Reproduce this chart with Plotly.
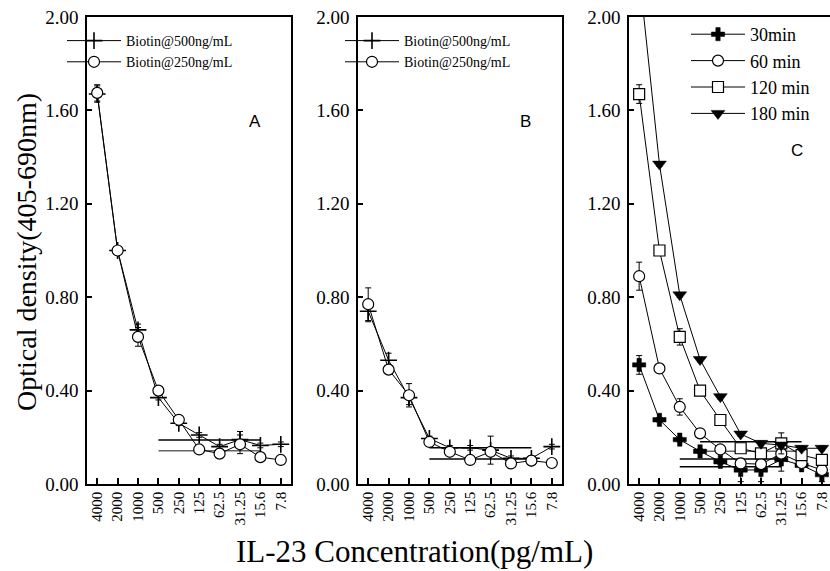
import plotly.graph_objects as go

categories = ["4000", "2000", "1000", "500", "250", "125", "62.5", "31.25", "15.6", "7.8"]

# Panel A
A_500 = [1.67, 1.00, 0.66, 0.37, 0.26, 0.21, 0.16, 0.19, 0.165, 0.17]
A_500_err = [0.035, 0.01, 0.025, 0.01, 0.01, 0.01, 0.01, 0.035, 0.01, 0.01]
A_250 = [1.675, 1.00, 0.63, 0.40, 0.275, 0.148, 0.13, 0.17, 0.115, 0.103]
A_250_err = [0.035, 0.01, 0.04, 0.01, 0.01, 0.01, 0.01, 0.04, 0.01, 0.01]
A_hline_y = [0.188, 0.142]
A_hline_from = ["500", "500"]
A_hline_to = ["15.6", "15.6"]

# Panel B
B_500 = [0.74, 0.53, 0.37, 0.195, 0.155, 0.155, 0.145, 0.11, 0.11, 0.16]
B_500_err = [0.045, 0.03, 0.03, 0.01, 0.01, 0.01, 0.06, 0.01, 0.01, 0.01]
B_250 = [0.77, 0.49, 0.38, 0.18, 0.138, 0.103, 0.138, 0.088, 0.10, 0.09]
B_250_err = [0.07, 0.01, 0.05, 0.01, 0.01, 0.01, 0.01, 0.01, 0.01, 0.01]
B_hline_y = [0.155, 0.107]
B_hline_from = ["500", "500"]
B_hline_to = ["15.6", "15.6"]

# Panel C
C_30 = [0.51, 0.275, 0.19, 0.14, 0.095, 0.06, 0.06, 0.105, 0.08, 0.04]
C_30_err = [0.04, 0.01, 0.01, 0.01, 0.01, 0.05, 0.05, 0.05, 0.01, 0.03]
C_60 = [0.89, 0.495, 0.33, 0.217, 0.148, 0.088, 0.085, 0.13, 0.09, 0.06]
C_60_err = [0.06, 0.01, 0.035, 0.01, 0.01, 0.01, 0.01, 0.01, 0.01, 0.01]
C_120 = [1.67, 1.00, 0.63, 0.40, 0.274, 0.153, 0.131, 0.174, 0.124, 0.103]
C_120_err = [0.04, 0.01, 0.035, 0.01, 0.01, 0.01, 0.01, 0.045, 0.01, 0.01]
C_180 = [2.19, 1.37, 0.81, 0.533, 0.374, 0.214, 0.174, 0.167, 0.153, 0.153]
C_180_err = [0.01, 0.01, 0.01, 0.01, 0.01, 0.01, 0.01, 0.01, 0.01, 0.01]
C_hline_y = [0.181, 0.140, 0.107, 0.074]
C_hline_from = ["500", "500", "1000", "1000"]
C_hline_to = ["15.6", "15.6", "31.25", "31.25"]

panel_labels = ["A", "B", "C"]
x_title = "IL-23 Concentration(pg/mL)"
y_title = "Optical density(405-690nm)"

SERIF = "Liberation Serif, Times New Roman, serif"
SANS = "Liberation Sans, Arial, sans-serif"
W, H = 830, 571
idx = list(range(len(categories)))
pos = {c: i for i, c in enumerate(categories)}

fig = go.Figure()


def series(y, err, name, symbol, size, xa, ya, legend, fill="white", lw=1.2):
    fig.add_trace(go.Scatter(
        x=idx, y=y, name=name, mode="lines+markers",
        line=dict(color="black", width=1),
        marker=dict(symbol=symbol, size=size, color=fill,
                    line=dict(color="black", width=lw)),
        error_y=dict(type="data", array=err, visible=True, color="black",
                     thickness=1, width=3),
        xaxis=xa, yaxis=ya, legend=legend, showlegend=True, cliponaxis=True))


def hlines(ys, frm, to, xa, ya, colors):
    for y, a, b, c in zip(ys, frm, to, colors):
        fig.add_trace(go.Scatter(
            x=[pos[a], pos[b]], y=[y, y], mode="lines",
            line=dict(color=c, width=1.5), showlegend=False,
            xaxis=xa, yaxis=ya, hoverinfo="skip"))


# Panel A
hlines(A_hline_y, A_hline_from, A_hline_to, "x", "y", ["black", "#666"])
series(A_500, A_500_err, "Biotin@500ng/mL", "cross-thin", 12, "x", "y", "legend", fill="black", lw=1.6)
series(A_250, A_250_err, "Biotin@250ng/mL", "circle", 11, "x", "y", "legend")
# Panel B
hlines(B_hline_y, B_hline_from, B_hline_to, "x2", "y2", ["black", "black"])
series(B_500, B_500_err, "Biotin@500ng/mL", "cross-thin", 12, "x2", "y2", "legend2", fill="black", lw=1.6)
series(B_250, B_250_err, "Biotin@250ng/mL", "circle", 11, "x2", "y2", "legend2")
# Panel C
hlines(C_hline_y, C_hline_from, C_hline_to, "x3", "y3", ["black", "#666", "black", "black"])
series(C_30, C_30_err, "30min", "cross", 11, "x3", "y3", "legend3", fill="black", lw=0.5)
series(C_60, C_60_err, "60 min", "circle", 11, "x3", "y3", "legend3")
series(C_120, C_120_err, "120 min", "square", 11, "x3", "y3", "legend3")
series(C_180, C_180_err, "180 min", "triangle-down", 12, "x3", "y3", "legend3", fill="black", lw=0.5)

ydom = [(H - 484) / H, (H - 17) / H]
xdoms = [[87 / W, 291 / W], [358 / W, 562 / W], [629 / W, 1.0]]
xranges = [[-0.5, 9.5], [-0.5, 9.5], [-0.5, 9.4]]
ymirror = [True, True, False]

axis_common = dict(showline=True, linecolor="black", linewidth=1.5,
                   showgrid=False, zeroline=False, ticks="inside", tickcolor="black",
                   tickwidth=1.5, automargin=False)
for i in range(3):
    sfx = "" if i == 0 else str(i + 1)
    fig.update_layout(**{
        "xaxis" + sfx: dict(domain=xdoms[i], range=xranges[i], tickmode="array",
                            tickvals=idx, ticktext=categories, tickangle=-90,
                            ticklen=6, anchor="y" + sfx, mirror=True,
                            tickfont=dict(family=SERIF, size=15, color="black"),
                            **axis_common),
        "yaxis" + sfx: dict(domain=ydom, range=[0, 2.0], tickmode="array",
                            tickvals=[0, 0.4, 0.8, 1.2, 1.6, 2.0],
                            ticktext=["0.00", "0.40", "0.80", "1.20", "1.60", "2.00"],
                            ticklen=5, anchor="x" + sfx, ticklabelstandoff=3,
                            mirror=ymirror[i],
                            tickfont=dict(family=SERIF, size=19, color="black"),
                            **axis_common),
    })

leg_common = dict(bgcolor="rgba(0,0,0,0)", borderwidth=0, xanchor="left", yanchor="top",
                  tracegroupgap=0, itemwidth=54)
fig.update_layout(
    legend=dict(x=62 / W, y=1 - 25 / H, font=dict(family=SERIF, size=14, color="black"), **leg_common),
    legend2=dict(x=340 / W, y=1 - 25 / H, font=dict(family=SERIF, size=14, color="black"), **leg_common),
    legend3=dict(x=686 / W, y=1 - 16 / H, font=dict(family=SERIF, size=18, color="black"), **leg_common),
)

label_pos = [(255, 121), (525, 121), (797, 150)]
ann = []
for lab, (px, py) in zip(panel_labels, label_pos):
    ann.append(dict(text=lab, x=px / W, y=1 - py / H, xref="paper", yref="paper",
                    xanchor="center", yanchor="middle",
                    showarrow=False, font=dict(family=SANS, size=17, color="black")))
ann.append(dict(text=x_title, x=414 / W, y=1 - 551 / H, xref="paper", yref="paper",
                xanchor="center", yanchor="middle",
                showarrow=False, font=dict(family=SERIF, size=31, color="black")))
ann.append(dict(text=y_title, x=26 / W, y=1 - 252 / H, xref="paper", yref="paper",
                xanchor="center", yanchor="middle",
                showarrow=False, textangle=-90, font=dict(family=SERIF, size=28, color="black")))

fig.update_layout(width=W, height=H, margin=dict(l=0, r=0, t=0, b=0, autoexpand=False),
                  paper_bgcolor="white", plot_bgcolor="white", annotations=ann,
                  showlegend=True)

fig.write_html("out.html", config={"displayModeBar": False},
               post_script="document.body.style.margin='0';document.body.style.overflow='hidden';")
